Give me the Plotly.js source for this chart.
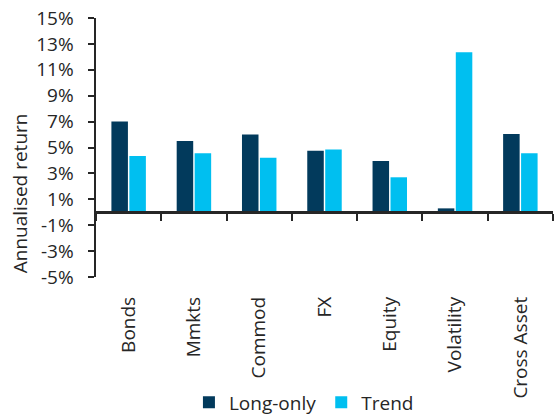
<!DOCTYPE html>
<html>
<head>
<meta charset="utf-8">
<script src="https://cdn.plot.ly/plotly-3.0.1.min.js"></script>
<style>
  html, body { margin: 0; padding: 0; background: #ffffff; }
  #chart { width: 554px; height: 415px; }
</style>
</head>
<body>
<div id="chart"></div>
<script>
// Asset classes along the x axis
const categories = ['Bonds', 'Mmkts', 'Commod', 'FX', 'Equity', 'Volatility', 'Cross Asset'];

// Annualised returns, in percent
const longOnly = [7.0, 5.5, 6.0, 4.75, 3.95, 0.3, 6.05];
const trend    = [4.35, 4.55, 4.2, 4.85, 2.7, 12.35, 4.55];

// Y axis ticks
const yTickVals = [-5, -3, -1, 1, 3, 5, 7, 9, 11, 13, 15];
const yTickText = ['-5%', '-3%', '-1%', '1%', '3%', '5%', '7%', '9%', '11%', '13%', '15%'];

const FONT = '"Open Sans", "Noto Sans", sans-serif';
const INK = '#262626';

const traces = [
  {
    type: 'bar',
    name: 'Long-only',
    x: categories,
    y: longOnly,
    marker: { color: '#023a5c' },
    hoverinfo: 'skip'
  },
  {
    type: 'bar',
    name: 'Trend',
    x: categories,
    y: trend,
    marker: { color: '#00bff0' },
    hoverinfo: 'skip'
  }
];

const layout = {
  width: 554,
  height: 415,
  margin: { l: 96, r: 1, t: 18, b: 138, autoexpand: false },
  paper_bgcolor: '#ffffff',
  plot_bgcolor: '#ffffff',
  font: { family: FONT, size: 19, color: INK },
  barmode: 'group',
  bargap: 0.45,
  bargroupgap: 0.08,
  showlegend: true,
  legend: {
    orientation: 'h',
    x: 0.455,
    xanchor: 'center',
    y: -0.484,
    yanchor: 'middle',
    font: { family: FONT, size: 19, color: INK },
    itemwidth: 30,
    tracegroupgap: 0,
    traceorder: 'normal'
  },
  xaxis: {
    type: 'category',
    range: [-0.5, 6.5],
    anchor: 'free',
    position: 0.25,
    showline: true,
    linecolor: INK,
    linewidth: 3,
    tickson: 'boundaries',
    ticks: 'outside',
    ticklen: 7,
    tickwidth: 2,
    tickcolor: INK,
    tickangle: -90,
    ticklabelstandoff: 75,
    showgrid: false,
    zeroline: false,
    automargin: false,
    fixedrange: true
  },
  yaxis: {
    range: [-5, 15],
    tickmode: 'array',
    tickvals: yTickVals,
    ticktext: yTickText,
    showline: true,
    linecolor: INK,
    linewidth: 2.5,
    ticks: 'outside',
    ticklen: 6,
    tickwidth: 2,
    tickcolor: INK,
    ticklabelstandoff: 10,
    showgrid: false,
    zeroline: false,
    automargin: false,
    fixedrange: true
  },
  annotations: [
    {
      text: 'Annualised return',
      textangle: -90,
      xref: 'paper',
      yref: 'paper',
      x: -0.166,
      y: 0.324,
      xanchor: 'center',
      yanchor: 'middle',
      showarrow: false,
      font: { family: FONT, size: 19, color: INK }
    }
  ]
};

Plotly.newPlot('chart', traces, layout, { displayModeBar: false, staticPlot: true });
</script>
</body>
</html>
